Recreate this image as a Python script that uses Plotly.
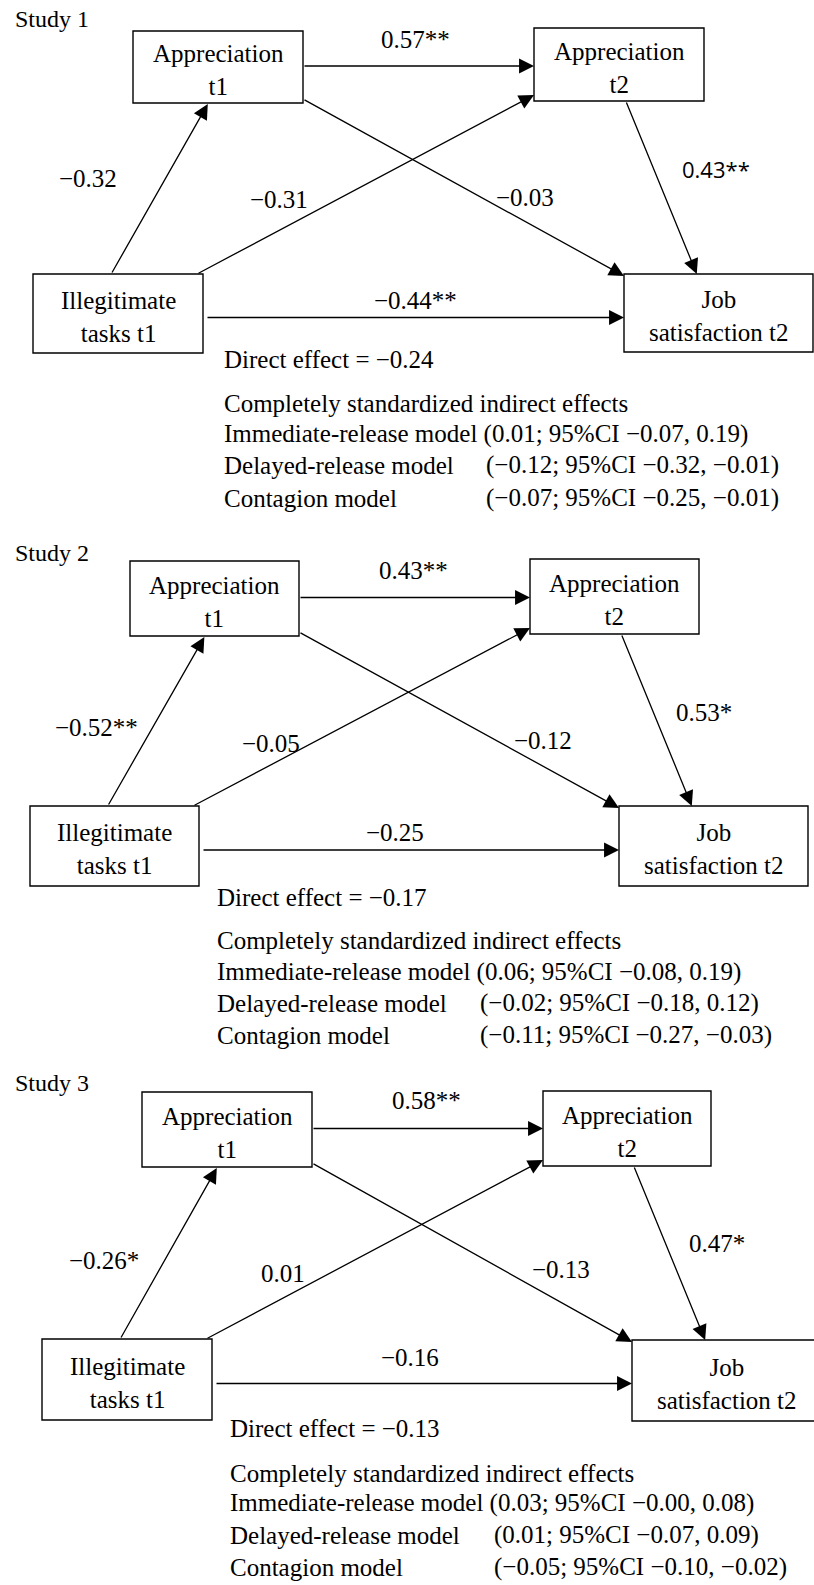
import plotly.graph_objects as go

W, H = 814, 1585
SERIF = "Liberation Serif, Times New Roman, serif"
SANS = "Open Sans, Noto Sans, sans-serif"

studies = ["Study 1", "Study 2", "Study 3"]
study_title_y = [19, 553, 1083]

node_text = {
    "app1": "Appreciation<br>t1",
    "app2": "Appreciation<br>t2",
    "ill": "Illegitimate<br>tasks t1",
    "job": "Job<br>satisfaction t2",
}

# node boxes per study: (x0, y0, x1, y1) in page pixels
boxes_s1 = {"app1": (133, 31, 303, 103), "app2": (534, 28, 704, 101),
            "ill": (33, 274, 203, 353), "job": (624, 274, 813, 352)}
boxes_s2 = {"app1": (130, 561, 299, 636), "app2": (530, 559, 699, 634),
            "ill": (30, 806, 199, 886), "job": (619, 806, 808, 886)}
boxes_s3 = {"app1": (142, 1092, 312, 1167), "app2": (543, 1091, 711, 1166),
            "ill": (42, 1339, 212, 1420), "job": (632, 1340, 822, 1421)}
boxes = [boxes_s1, boxes_s2, boxes_s3]

# path coefficients
coef_app1_app2 = ["0.57**", "0.43**", "0.58**"]
coef_ill_app1 = ["\u22120.32", "\u22120.52**", "\u22120.26*"]
coef_ill_app2 = ["\u22120.31", "\u22120.05", "0.01"]
coef_app1_job = ["\u22120.03", "\u22120.12", "\u22120.13"]
coef_app2_job = ["0.43**", "0.53*", "0.47*"]
coef_ill_job = ["\u22120.44**", "\u22120.25", "\u22120.16"]

# label centers (x, y)
pos_app1_app2 = [(415, 39), (413, 570), (426, 1100)]
pos_ill_app1 = [(88, 178), (96, 727), (104, 1260)]
pos_ill_app2 = [(279, 199), (271, 743), (283, 1273)]
pos_app1_job = [(525, 197), (543, 740), (561, 1269)]
pos_app2_job = [(716, 169), (704, 712), (717, 1243)]
pos_ill_job = [(415, 300), (395, 832), (410, 1357)]

direct_effect = ["\u22120.24", "\u22120.17", "\u22120.13"]
ind_immediate = ["(0.01; 95%CI \u22120.07, 0.19)", "(0.06; 95%CI \u22120.08, 0.19)", "(0.03; 95%CI \u22120.00, 0.08)"]
ind_delayed = ["(\u22120.12; 95%CI \u22120.32, \u22120.01)", "(\u22120.02; 95%CI \u22120.18, 0.12)", "(0.01; 95%CI \u22120.07, 0.09)"]
ind_contagion = ["(\u22120.07; 95%CI \u22120.25, \u22120.01)", "(\u22120.11; 95%CI \u22120.27, \u22120.03)", "(\u22120.05; 95%CI \u22120.10, \u22120.02)"]

text_left = [222, 215, 228]
paren_left = [484, 478, 492]
y_direct = [359, 897, 1428]
y_complete = [403, 940, 1473]
y_immediate = [434, 972, 1503]
y_delayed = [465, 1003, 1535]
y_contagion = [498, 1035, 1567]

fig = go.Figure()
fig.add_trace(go.Scatter(x=[0, W], y=[0, H], mode="markers", marker=dict(opacity=0), hoverinfo="skip", showlegend=False))

shapes = []
annotations = []

def txt(x, y, s, size=25, xanchor="center", family=SERIF):
    annotations.append(dict(x=x, y=y, xref="x", yref="y", text=s, showarrow=False,
                            xanchor=xanchor, yanchor="middle",
                            font=dict(family=family, size=size, color="black")))

def arrow(tail, tip):
    annotations.append(dict(x=tip[0], y=tip[1], ax=tail[0], ay=tail[1],
                            xref="x", yref="y", axref="x", ayref="y", text="",
                            showarrow=True, arrowhead=2, arrowsize=2.3, arrowwidth=1.3,
                            arrowcolor="black", standoff=0, startstandoff=0))

for i, st in enumerate(studies):
    txt(13, study_title_y[i], st, size=24, xanchor="left")
    b = boxes[i]
    for k, (x0, y0, x1, y1) in b.items():
        shapes.append(dict(type="rect", xref="x", yref="y", x0=x0, y0=y0, x1=x1, y1=y1,
                           line=dict(color="black", width=1.4), fillcolor="white", layer="above"))
        txt((x0 + x1) / 2, (y0 + y1) / 2 + 3, node_text[k], size=25)

    a1, a2, il, jb = b["app1"], b["app2"], b["ill"], b["job"]
    yc = (a1[1] + a1[3]) / 2 - 1
    arrow((a1[2], yc), (a2[0], yc))
    arrow((a1[2], a1[3] - 4), (jb[0], jb[1] + 2))
    arrow((il[0] + 0.46 * (il[2] - il[0]), il[1]), (a1[0] + 0.44 * (a1[2] - a1[0]), a1[3] + 1))
    arrow((il[2] - 6, il[1]), (a2[0], a2[3] - 6))
    arrow((a2[0] + 0.54 * (a2[2] - a2[0]), a2[3]), (jb[0] + 0.385 * (jb[2] - jb[0]), jb[1]))
    yc2 = (il[1] + il[3]) / 2 + 4
    arrow((il[2] + 3, yc2), (jb[0], yc2))

    txt(*pos_app1_app2[i], coef_app1_app2[i])
    txt(*pos_ill_app1[i], coef_ill_app1[i])
    txt(*pos_ill_app2[i], coef_ill_app2[i])
    txt(*pos_app1_job[i], coef_app1_job[i])
    if i == 0:
        txt(*pos_app2_job[i], coef_app2_job[i], size=22, family=SANS)
    else:
        txt(*pos_app2_job[i], coef_app2_job[i])
    txt(*pos_ill_job[i], coef_ill_job[i])

    L = text_left[i]
    txt(L, y_direct[i], "Direct effect = " + direct_effect[i], xanchor="left")
    txt(L, y_complete[i], "Completely standardized indirect effects", xanchor="left")
    txt(L, y_immediate[i], "Immediate-release model " + ind_immediate[i], xanchor="left")
    txt(L, y_delayed[i], "Delayed-release model", xanchor="left")
    txt(paren_left[i], y_delayed[i], ind_delayed[i], xanchor="left")
    txt(L, y_contagion[i], "Contagion model", xanchor="left")
    txt(paren_left[i], y_contagion[i], ind_contagion[i], xanchor="left")

fig.update_layout(
    width=W, height=H, margin=dict(l=0, r=0, t=0, b=0),
    paper_bgcolor="white", plot_bgcolor="white",
    xaxis=dict(range=[0, W], visible=False, fixedrange=True),
    yaxis=dict(range=[H, 0], visible=False, fixedrange=True),
    shapes=shapes, annotations=annotations, showlegend=False,
)
fig.write_html("out.html", config={"displayModeBar": False},
               post_script="document.body.style.margin='0';document.body.style.overflow='hidden';")
